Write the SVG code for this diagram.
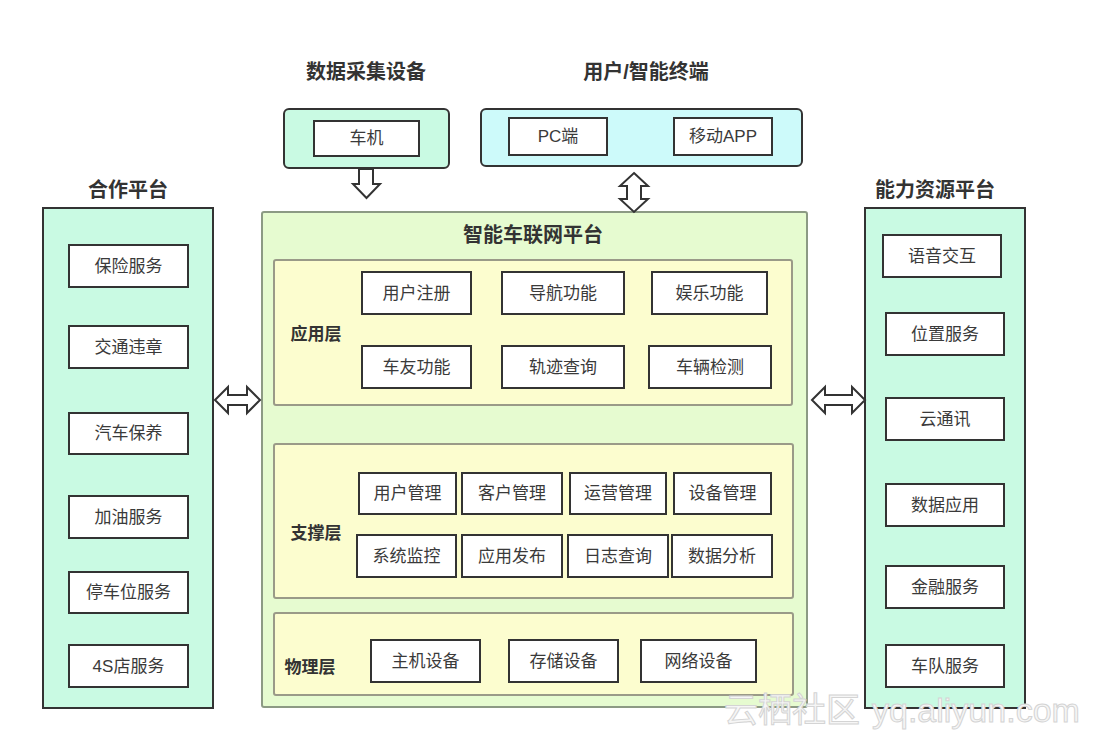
<svg xmlns="http://www.w3.org/2000/svg" width="1098" height="738" viewBox="0 0 1098 738">
<style>
.title{font-family:"Liberation Sans","Noto Sans CJK SC",sans-serif;font-size:20px;font-weight:bold;fill:#333;text-anchor:middle;dominant-baseline:central}
.lbl{font-family:"Liberation Sans","Noto Sans CJK SC",sans-serif;font-size:17px;fill:#3a3a3a;text-anchor:middle;dominant-baseline:central}
.layer-lbl{font-family:"Liberation Sans","Noto Sans CJK SC",sans-serif;font-size:17px;font-weight:bold;fill:#333;text-anchor:middle;dominant-baseline:central}
.box{fill:#fff;stroke:#333;stroke-width:2}
.panel{fill:#c9fae3;stroke:#333;stroke-width:2}
.term{fill:#cdfafa;stroke:#333;stroke-width:2}
.platform{fill:#e6fbd0;stroke:#8c9a84;stroke-width:2}
.layer{fill:#fcfdcf;stroke:#9a9a88;stroke-width:2}
.arrow{fill:#fff;stroke:#333;stroke-width:2;stroke-linejoin:miter}
.wm{font-family:"Liberation Sans","Noto Sans CJK SC",sans-serif;font-size:34px;fill:#f6f6f6;stroke:#d4d4d4;stroke-width:1}
</style>

<g id="data-collection">
<text class="title" x="366" y="72">数据采集设备</text>
<rect class="panel" x="284" y="109" width="165" height="59" rx="5"/>
<g id="node-cheji"><rect class="box" x="314" y="121" width="105" height="35"/><text class="lbl" x="366.5" y="138.5">车机</text></g>
</g>

<g id="user-terminal">
<text class="title" x="646" y="72">用户/智能终端</text>
<rect class="term" x="481" y="109" width="321" height="57" rx="5"/>
<g id="node-pc"><rect class="box" x="509" y="118" width="98" height="37"/><text class="lbl" x="558" y="136.5">PC端</text></g>
<g id="node-app"><rect class="box" x="674" y="118" width="98" height="37"/><text class="lbl" x="723" y="136.5">移动APP</text></g>
</g>

<g id="partner-platform">
<text class="title" x="128" y="190">合作平台</text>
<rect class="panel" x="43" y="208" width="170" height="500"/>
<g id="node-p1"><rect class="box" x="69" y="245" width="119" height="42"/><text class="lbl" x="128.5" y="266">保险服务</text></g>
<g id="node-p2"><rect class="box" x="69" y="326" width="119" height="42"/><text class="lbl" x="128.5" y="347">交通违章</text></g>
<g id="node-p3"><rect class="box" x="69" y="413" width="119" height="41"/><text class="lbl" x="128.5" y="433.5">汽车保养</text></g>
<g id="node-p4"><rect class="box" x="69" y="496" width="119" height="42"/><text class="lbl" x="128.5" y="517">加油服务</text></g>
<g id="node-p5"><rect class="box" x="69" y="572" width="119" height="41"/><text class="lbl" x="128.5" y="592.5">停车位服务</text></g>
<g id="node-p6"><rect class="box" x="69" y="645" width="119" height="42"/><text class="lbl" x="128.5" y="666">4S店服务</text></g>
</g>

<g id="capability-platform">
<text class="title" x="935" y="190">能力资源平台</text>
<rect class="panel" x="865" y="208" width="160" height="500"/>
<g id="node-c1"><rect class="box" x="883" y="235" width="118" height="42"/><text class="lbl" x="942" y="256">语音交互</text></g>
<g id="node-c2"><rect class="box" x="886" y="313" width="118" height="42"/><text class="lbl" x="945" y="334">位置服务</text></g>
<g id="node-c3"><rect class="box" x="886" y="398" width="118" height="42"/><text class="lbl" x="945" y="419">云通讯</text></g>
<g id="node-c4"><rect class="box" x="886" y="484" width="118" height="42"/><text class="lbl" x="945" y="505">数据应用</text></g>
<g id="node-c5"><rect class="box" x="886" y="566" width="118" height="42"/><text class="lbl" x="945" y="587">金融服务</text></g>
<g id="node-c6"><rect class="box" x="886" y="645" width="118" height="42"/><text class="lbl" x="945" y="666">车队服务</text></g>
</g>

<g id="iov-platform">
<rect class="platform" x="262" y="212" width="545" height="495" rx="2"/>
<text class="title" x="533" y="235">智能车联网平台</text>

<g id="app-layer">
<rect class="layer" x="274" y="260" width="518" height="145" rx="2"/>
<text class="layer-lbl" x="316" y="334">应用层</text>
<g id="node-a1"><rect class="box" x="362" y="272" width="109" height="42"/><text class="lbl" x="416.5" y="293">用户注册</text></g>
<g id="node-a2"><rect class="box" x="502" y="272" width="122" height="42"/><text class="lbl" x="563" y="293">导航功能</text></g>
<g id="node-a3"><rect class="box" x="652" y="272" width="115" height="42"/><text class="lbl" x="709.5" y="293">娱乐功能</text></g>
<g id="node-a4"><rect class="box" x="362" y="346" width="109" height="42"/><text class="lbl" x="416.5" y="367">车友功能</text></g>
<g id="node-a5"><rect class="box" x="502" y="346" width="122" height="42"/><text class="lbl" x="563" y="367">轨迹查询</text></g>
<g id="node-a6"><rect class="box" x="649" y="346" width="122" height="42"/><text class="lbl" x="710" y="367">车辆检测</text></g>
</g>

<g id="support-layer">
<rect class="layer" x="274" y="444" width="519" height="154" rx="2"/>
<text class="layer-lbl" x="316" y="533">支撑层</text>
<g id="node-s1"><rect class="box" x="359" y="473" width="97" height="41"/><text class="lbl" x="407.5" y="493.5">用户管理</text></g>
<g id="node-s2"><rect class="box" x="462" y="473" width="100" height="41"/><text class="lbl" x="512" y="493.5">客户管理</text></g>
<g id="node-s3"><rect class="box" x="570" y="473" width="96" height="41"/><text class="lbl" x="618" y="493.5">运营管理</text></g>
<g id="node-s4"><rect class="box" x="674" y="473" width="97" height="41"/><text class="lbl" x="722.5" y="493.5">设备管理</text></g>
<g id="node-s5"><rect class="box" x="357" y="535" width="99" height="42"/><text class="lbl" x="406.5" y="556">系统监控</text></g>
<g id="node-s6"><rect class="box" x="462" y="535" width="100" height="42"/><text class="lbl" x="512" y="556">应用发布</text></g>
<g id="node-s7"><rect class="box" x="568" y="535" width="100" height="42"/><text class="lbl" x="618" y="556">日志查询</text></g>
<g id="node-s8"><rect class="box" x="672" y="535" width="100" height="42"/><text class="lbl" x="722" y="556">数据分析</text></g>
</g>

<g id="physical-layer">
<rect class="layer" x="274" y="613" width="519" height="82" rx="2"/>
<text class="layer-lbl" x="310" y="667">物理层</text>
<g id="node-h1"><rect class="box" x="371" y="640" width="109" height="42"/><text class="lbl" x="425.5" y="661">主机设备</text></g>
<g id="node-h2"><rect class="box" x="509" y="640" width="109" height="42"/><text class="lbl" x="563.5" y="661">存储设备</text></g>
<g id="node-h3"><rect class="box" x="641" y="640" width="115" height="42"/><text class="lbl" x="698.5" y="661">网络设备</text></g>
</g>
</g>

<g id="connectors">
<path class="arrow" d="M359,169 H373 V184 H380 L366.5,198 L353,184 H359 Z"/>
<path class="arrow" d="M634,173 L648,186 H641 V199 H648 L634,212 L620,199 H627 V186 H620 Z"/>
<path class="arrow" d="M215,400 L228,387 V395 H247 V387 L260,400 L247,413 V405 H228 V413 Z"/>
<path class="arrow" d="M812,400 L825,387 V395 H852 V387 L865,400 L852,413 V405 H825 V413 Z"/>
</g>

<text class="wm" x="724" y="722">云栖社区</text>
<text class="wm" x="872" y="722">yq.aliyun.com</text>
</svg>
